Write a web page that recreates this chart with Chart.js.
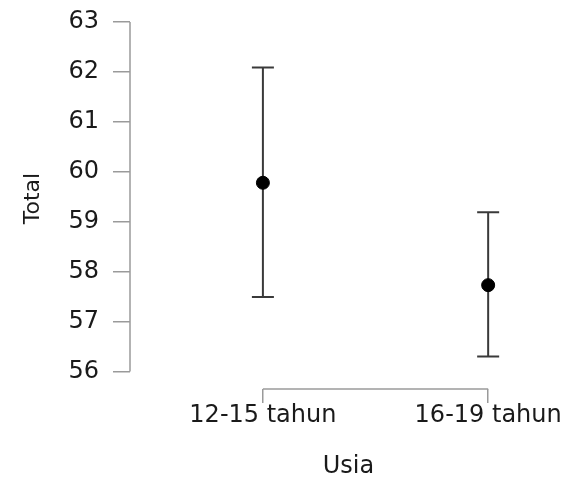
<!DOCTYPE html>
<html>
<head>
<meta charset="utf-8">
<script src="https://cdn.jsdelivr.net/npm/chart.js@4"></script>
<style>
  html, body { margin: 0; padding: 0; background: #fff; }
  #wrap { width: 575px; height: 481px; }
</style>
</head>
<body>
<div id="wrap"><canvas id="usiaChart"></canvas></div>
<script>
// data
const categories = ['12-15 tahun', '16-19 tahun'];
const means = [59.78, 57.73];
const lower = [57.49, 56.30];
const upper = [62.09, 59.19];
const yTicks = [56, 57, 58, 59, 60, 61, 62, 63];

const axisGrey = '#9a9a9a';
const font = { family: 'DejaVu Sans', size: 24 };

// R-style axes: lines only span the tick range
const rAxes = {
    id: 'rAxes',
    afterDraw(chart) {
        const { ctx, chartArea, scales } = chart;
        ctx.save();
        ctx.strokeStyle = axisGrey;
        ctx.lineWidth = 1.5;
        ctx.beginPath();
        ctx.moveTo(chartArea.left, scales.y.getPixelForValue(yTicks[0]));
        ctx.lineTo(chartArea.left, scales.y.getPixelForValue(yTicks[yTicks.length - 1]));
        ctx.moveTo(scales.x.getPixelForValue(1), chartArea.bottom);
        ctx.lineTo(scales.x.getPixelForValue(categories.length), chartArea.bottom);
        ctx.stroke();
        ctx.restore();
    }
};

// error bars behind the points
const errorBars = {
    id: 'errorBars',
    beforeDatasetsDraw(chart) {
        const { ctx, scales } = chart;
        ctx.save();
        ctx.strokeStyle = '#3a3a3a';
        ctx.lineWidth = 2;
        categories.forEach((c, i) => {
            const x = scales.x.getPixelForValue(i + 1);
            const yLo = scales.y.getPixelForValue(lower[i]);
            const yHi = scales.y.getPixelForValue(upper[i]);
            ctx.beginPath();
            ctx.moveTo(x, yLo);
            ctx.lineTo(x, yHi);
            ctx.moveTo(x - 11, yLo);
            ctx.lineTo(x + 11, yLo);
            ctx.moveTo(x - 11, yHi);
            ctx.lineTo(x + 11, yHi);
            ctx.stroke();
        });
        ctx.restore();
    }
};

const ctx = document.getElementById('usiaChart').getContext('2d');
const usiaChart = new Chart(ctx, {
    type: 'scatter',
    data: {
        datasets: [{
            data: means.map((m, i) => ({ x: i + 1, y: m })),
            backgroundColor: '#000',
            borderColor: '#000',
            pointRadius: 6.5,
            pointHoverRadius: 6.5
        }]
    },
    options: {
        responsive: true,
        maintainAspectRatio: false,
        animation: false,
        layout: { padding: { top: 8, right: 8, left: 0, bottom: 0 } },
        plugins: {
            legend: { display: false },
            tooltip: { enabled: false }
        },
        scales: {
            x: {
                type: 'linear',
                min: 0.41,
                max: 2.35,
                afterBuildTicks: (scale) => {
                    scale.ticks = categories.map((c, i) => ({ value: i + 1 }));
                },
                afterFit: (scale) => { scale.height = 92; },
                border: { display: false },
                grid: { drawOnChartArea: false, drawTicks: true, tickLength: 14, color: axisGrey, lineWidth: 1.5 },
                ticks: {
                    color: '#1a1a1a',
                    font: font,
                    padding: -2,
                    maxRotation: 0,
                    autoSkip: false,
                    callback: (v) => categories[v - 1] || ''
                },
                title: {
                    display: true,
                    text: 'Usia',
                    color: '#1a1a1a',
                    font: font,
                    padding: { top: 0, bottom: 0 }
                }
            },
            y: {
                min: 55.65,
                max: 63.28,
                afterBuildTicks: (scale) => {
                    scale.ticks = yTicks.map(v => ({ value: v }));
                },
                afterFit: (scale) => {
                    scale.width = 130;
                    scale.paddingTop = 0;
                    scale.paddingBottom = 0;
                },
                border: { display: false },
                grid: { drawOnChartArea: false, drawTicks: true, tickLength: 17, color: axisGrey, lineWidth: 1.5 },
                ticks: {
                    color: '#1a1a1a',
                    font: font,
                    padding: 14
                },
                title: {
                    display: true,
                    text: 'Total',
                    color: '#1a1a1a',
                    font: { family: 'DejaVu Sans', size: 22 },
                    padding: { top: 20, bottom: 20 }
                }
            }
        }
    },
    plugins: [rAxes, errorBars]
});
</script>
</body>
</html>
